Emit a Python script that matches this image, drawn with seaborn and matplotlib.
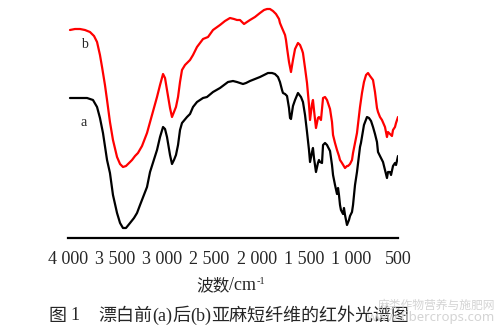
import matplotlib
matplotlib.use("Agg")
import matplotlib.pyplot as plt
import seaborn as sns
import pandas as pd

# FTIR spectra of flax tow before (a) and after (b) bleaching
wn_a = [3979, 3873, 3798, 3735, 3692, 3661, 3629, 3586, 3555, 3523,
        3480, 3448, 3417, 3385, 3342, 3300, 3268, 3236, 3162, 3130,
        3056, 3024, 2992, 2971, 2950, 2918, 2897, 2876, 2855, 2833,
        2812, 2791, 2738, 2706, 2674, 2632, 2600, 2568, 2526, 2462,
        2388, 2303, 2250, 2208, 2176, 2144, 2112, 2070, 2017, 1964,
        1921, 1879, 1836, 1805, 1773, 1752, 1730, 1720, 1698, 1677,
        1656, 1645, 1635, 1614, 1592, 1561, 1529, 1508, 1486, 1465,
        1444, 1433, 1412, 1402, 1391, 1370, 1349, 1338, 1327, 1306,
        1295, 1274, 1253, 1221, 1200, 1189, 1168, 1147, 1136, 1126,
        1115, 1105, 1083, 1073, 1062, 1041, 1020, 1009, 988, 977,
        956, 935, 903, 893, 861, 829, 808, 786, 765, 744,
        723, 712, 691, 659, 638, 617, 606, 585, 574, 553,
        532, 521, 500]
t_a = [140, 140, 140, 138, 131, 120, 105, 78, 65, 43,
       25, 15, 10, 10, 15, 20, 25, 33, 51, 66,
       88, 101, 111, 109, 101, 83, 74, 78, 83, 93,
       108, 115, 121, 124, 131, 136, 138, 140, 141, 146,
       150, 156, 157, 156, 155, 154, 155, 157, 159, 161,
       163, 165, 165, 164, 161, 156, 148, 145, 144, 142,
       130, 120, 119, 132, 138, 145, 141, 136, 123, 106,
       88, 76, 86, 90, 80, 66, 75, 78, 76, 75,
       93, 95, 93, 87, 73, 63, 53, 44, 50, 43,
       33, 28, 24, 30, 23, 13, 18, 22, 26, 33,
       53, 66, 91, 95, 113, 121, 120, 117, 111, 104,
       96, 86, 82, 76, 68, 60, 66, 66, 63, 72,
       75, 73, 82]

wn_b = [3979, 3926, 3873, 3820, 3767, 3724, 3692, 3661, 3639, 3608,
        3586, 3555, 3523, 3480, 3448, 3417, 3385, 3342, 3321, 3289,
        3258, 3215, 3162, 3109, 3056, 3024, 2992, 2971, 2950, 2918,
        2897, 2876, 2855, 2833, 2812, 2791, 2759, 2706, 2674, 2632,
        2600, 2568, 2515, 2462, 2388, 2335, 2282, 2239, 2208, 2176,
        2133, 2102, 2070, 2017, 1964, 1921, 1889, 1858, 1826, 1794,
        1762, 1752, 1730, 1698, 1688, 1677, 1656, 1635, 1614, 1592,
        1561, 1539, 1518, 1508, 1486, 1465, 1444, 1433, 1412, 1402,
        1391, 1370, 1349, 1338, 1317, 1295, 1274, 1253, 1221, 1200,
        1189, 1168, 1147, 1126, 1115, 1094, 1062, 1041, 1030, 1009,
        988, 977, 956, 935, 903, 882, 861, 839, 818, 797,
        765, 744, 723, 712, 691, 670, 638, 617, 606, 585,
        564, 553, 532, 521, 500]
t_b = [208, 209, 209, 208, 206, 202, 196, 183, 171, 153,
       138, 116, 98, 81, 74, 71, 72, 76, 78, 82,
       85, 92, 105, 123, 141, 153, 164, 160, 148, 130,
       121, 126, 131, 141, 156, 168, 173, 178, 183, 191,
       195, 199, 201, 208, 213, 217, 220, 219, 218, 218,
       214, 216, 218, 221, 225, 228, 229, 229, 227, 224,
       219, 215, 210, 203, 198, 190, 176, 166, 178, 189,
       195, 193, 188, 185, 170, 155, 133, 118, 134, 138,
       128, 110, 120, 121, 118, 140, 141, 138, 129, 116,
       103, 95, 88, 82, 78, 75, 70, 72, 72, 74,
       78, 85, 95, 105, 131, 145, 156, 163, 165, 162,
       158, 146, 130, 126, 121, 118, 111, 101, 106, 104,
       102, 108, 111, 115, 121]

tick_pos = [4000, 3500, 3000, 2500, 2000, 1500, 1000, 500]
tick_labels = ["4 000", "3 500", "3 000", "2 500", "2 000", "1 500", "1 000", "500"]

sns.set_theme(style="white")
plt.rcParams["font.family"] = ["Liberation Serif", "Noto Sans CJK SC"]
SERIF = "Liberation Serif"
CJK = "Noto Sans CJK SC"

W, H = 501, 330
fig = plt.figure(figsize=(W / 100, H / 100), dpi=100)
ax = fig.add_axes([68 / W, (H - 238) / H, 330 / W, 233 / H])
renderer = fig.canvas.get_renderer()

df_a = pd.DataFrame({"wn": wn_a, "t": t_a})
df_b = pd.DataFrame({"wn": wn_b, "t": t_b})
sns.lineplot(data=df_b, x="wn", y="t", color="#ff0000", lw=1.6, ax=ax)
sns.lineplot(data=df_a, x="wn", y="t", color="black", lw=1.6, ax=ax)

ax.set_xlim(4000, 500)
ax.set_ylim(0, 233)
for s in ["top", "left", "right"]:
    ax.spines[s].set_visible(False)
ax.spines["bottom"].set_linewidth(1.6)
ax.spines["bottom"].set_color("black")
ax.set_yticks([])
ax.set_xticks(tick_pos)
ax.set_xticklabels(tick_labels, fontsize=13, family=SERIF)
ax.tick_params(axis="x", direction="in", length=4, width=1.1, color="black", pad=9)
ax.set_xlabel("")
ax.set_ylabel("")

ax.text(3830, 193, "b", fontsize=10, ha="center", va="center", family=SERIF)
ax.text(3830, 116, "a", fontsize=10, ha="center", va="center", family=SERIF)


def run_text(x_px, y_px, pieces):
    """Place consecutive text pieces left to right on one line."""
    for txt, fam, size, dy in pieces:
        t = fig.text(x_px / W, 1 - (y_px + dy) / H, txt, fontsize=size,
                     ha="left", va="center", family=fam)
        x_px += t.get_window_extent(renderer).width


# axis title with superscript unit
run_text(196, 286, [("波数", CJK, 12, 0), ("/cm", SERIF, 13, 0), ("-1", SERIF, 7.5, -5)])

# caption
run_text(48, 316, [("图", CJK, 13, 0)])
run_text(70, 316, [("1", SERIF, 13, 0)])
run_text(98, 316, [("漂白前", CJK, 13, 0), ("(a)", SERIF, 13, 0), ("后", CJK, 13, 0),
                   ("(b)", SERIF, 13, 0), ("亚麻短纤维的红外光谱图", CJK, 13, 0)])

# faint site mark
fig.text(495 / W, 1 - 305 / H, "麻类作物营养与施肥网", fontsize=8.5, ha="right", va="center",
         family=CJK, color="#d4d4d4")
fig.text(495 / W, 1 - 318 / H, "www.fibercrops.com", fontsize=9.5, ha="right", va="center",
         family="Noto Sans", color="#d4d4d4")

fig.savefig("out.png", dpi=100)
